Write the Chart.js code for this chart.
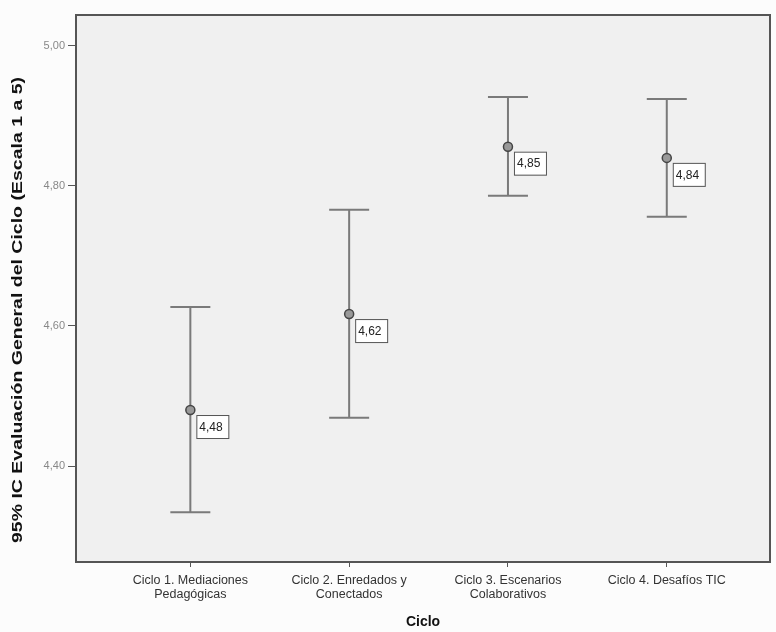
<!DOCTYPE html>
<html lang="es">
<head>
<meta charset="UTF-8">
<title>Evaluación General del Ciclo</title>
<script src="https://cdn.jsdelivr.net/npm/chart.js"></script>
<style>
  html, body { margin: 0; padding: 0; background: #fcfcfc; }
  #wrap { width: 776px; height: 632px; }
</style>
</head>
<body>
<div id="wrap"><canvas id="chart" width="776" height="632"></canvas></div>
<script>
const ciclos = [
    ["Ciclo 1. Mediaciones", "Pedagógicas"],
    ["Ciclo 2. Enredados y", "Conectados"],
    ["Ciclo 3. Escenarios", "Colaborativos"],
    ["Ciclo 4. Desafíos TIC"]
];
const medias = [4.48, 4.617, 4.856, 4.84];
const icSup = [4.627, 4.766, 4.927, 4.924];
const icInf = [4.334, 4.469, 4.786, 4.756];
const etiquetas = ["4,48", "4,62", "4,85", "4,84"];
const yTicks = [4.4, 4.6, 4.8, 5.0];
const tituloY = "95% IC Evaluación General del Ciclo (Escala 1 a 5)";

const gris = "#7a7a7a";
const fuente = "Arial, 'Liberation Sans', sans-serif";

// fondo y marco del área de gráfico, barras de error, etiquetas y título del eje Y
const errorBars = {
    id: "errorBars",
    beforeDatasetsDraw(chart) {
        const { ctx, chartArea: a, scales: { x, y } } = chart;
        ctx.save();
        ctx.fillStyle = "#f0f0f0";
        ctx.fillRect(a.left, a.top, a.right - a.left, a.bottom - a.top);
        ctx.strokeStyle = gris;
        ctx.lineWidth = 2;
        medias.forEach((m, i) => {
            const px = x.getPixelForValue(i + 1);
            const top = y.getPixelForValue(icSup[i]);
            const bot = y.getPixelForValue(icInf[i]);
            ctx.beginPath();
            ctx.moveTo(px, top); ctx.lineTo(px, bot);
            ctx.moveTo(px - 20, top); ctx.lineTo(px + 20, top);
            ctx.moveTo(px - 20, bot); ctx.lineTo(px + 20, bot);
            ctx.stroke();
        });
        ctx.restore();
    },
    afterDatasetsDraw(chart) {
        const { ctx, chartArea: a, scales: { x, y } } = chart;
        ctx.save();
        ctx.font = "12px " + fuente;
        ctx.textBaseline = "middle";
        ctx.textAlign = "left";
        medias.forEach((m, i) => {
            const px = x.getPixelForValue(i + 1);
            const py = y.getPixelForValue(m);
            const bx = px + 6, by = py + 5, bw = 32, bh = 23;
            ctx.fillStyle = "#ffffff";
            ctx.fillRect(bx, by, bw, bh);
            ctx.strokeStyle = "#555";
            ctx.lineWidth = 1;
            ctx.strokeRect(bx + 0.5, by + 0.5, bw, bh);
            ctx.fillStyle = "#222";
            ctx.fillText(etiquetas[i], bx + 3, by + bh / 2 + 1);
        });
        ctx.strokeStyle = "#555";
        ctx.lineWidth = 2;
        ctx.strokeRect(a.left, a.top, a.right - a.left, a.bottom - a.top);

        // título del eje Y, algo estirado como en el original
        ctx.translate(18, 310);
        ctx.rotate(-Math.PI / 2);
        ctx.scale(1.3, 1);
        ctx.font = "bold 15px " + fuente;
        ctx.textAlign = "center";
        ctx.fillStyle = "#111";
        ctx.fillText(tituloY, 0, 0);
        ctx.restore();
    }
};

new Chart(document.getElementById("chart"), {
    type: "scatter",
    data: {
        datasets: [{
            data: medias.map((m, i) => ({ x: i + 1, y: m })),
            pointStyle: "circle",
            pointRadius: 4.5,
            pointBorderWidth: 1.5,
            pointBorderColor: "#444",
            pointBackgroundColor: "#999"
        }]
    },
    options: {
        responsive: false,
        animation: false,
        layout: { padding: { top: 15, right: 6, left: 0, bottom: 0 } },
        plugins: { legend: { display: false }, tooltip: { enabled: false } },
        scales: {
            x: {
                type: "linear",
                min: 0.28,
                max: 4.65,
                afterBuildTicks: s => { s.ticks = [1, 2, 3, 4].map(v => ({ value: v })); },
                afterFit: s => { s.height = 70; },
                grid: { drawOnChartArea: false, tickLength: 5, color: "#555" },
                border: { display: false },
                ticks: {
                    padding: 6,
                    color: "#333",
                    font: { family: fuente, size: 12.5, lineHeight: 1.15 },
                    maxRotation: 0,
                    callback: v => ciclos[v - 1]
                },
                title: {
                    display: true,
                    text: "Ciclo",
                    color: "#111",
                    font: { family: fuente, size: 14, weight: "bold" },
                    padding: { top: 0, bottom: 1 }
                }
            },
            y: {
                min: 4.263,
                max: 5.044,
                afterBuildTicks: s => { s.ticks = yTicks.map(v => ({ value: v })); },
                afterFit: s => { s.width = 76; },
                grid: { drawOnChartArea: false, tickLength: 8, color: "#555" },
                border: { display: false },
                ticks: {
                    padding: 3,
                    color: "#888",
                    font: { family: fuente, size: 11 },
                    callback: v => v.toFixed(2).replace(".", ",")
                },
                title: { display: false }
            }
        }
    },
    plugins: [errorBars]
});
</script>
</body>
</html>
